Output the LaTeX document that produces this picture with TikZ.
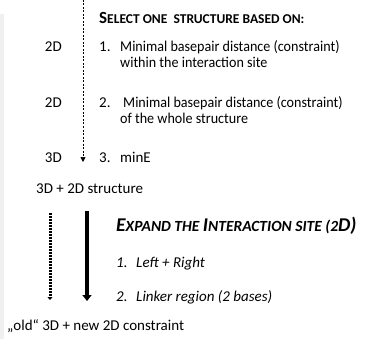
\documentclass[tikz,border=0pt]{standalone}
\usepackage{fontspec}
\usepackage{graphicx}
\setmainfont{Carlito}
\usetikzlibrary{arrows.meta}
% hand-made small capitals: large initial, smaller uppercase rest
\newcommand{\bigc}[1]{{\fontsize{17}{19}\selectfont #1}}
\newcommand{\smc}[1]{{\fontsize{13.5}{15}\selectfont #1}}
\newcommand{\bigi}[1]{{\fontsize{19.5}{21}\selectfont #1}}
\newcommand{\smi}[1]{{\fontsize{15.5}{17}\selectfont #1}}
% slightly condensed line for the long criteria
\newcommand{\narrow}[1]{\scalebox{0.94}[1]{#1}}
\begin{document}
\begin{tikzpicture}[x=1pt,y=-1pt,
  txt/.style={anchor=base west,inner sep=0pt,font=\fontsize{15}{17}\selectfont},
  itxt/.style={txt,font=\fontsize{15}{17}\selectfont\itshape},
  lbl/.style={anchor=base east,inner sep=0pt,font=\fontsize{15}{17}\selectfont},
  head/.style={anchor=base west,inner sep=0pt,font=\bfseries}]
\useasboundingbox (0,0) rectangle (371,339);
\fill[black!6] (0,14) rectangle (4,339);

% selection criteria
\node[head] (sel) at (99,24) {\bigc{S}\smc{ELECT ONE\ \ STRUCTURE BASED ON:}};
\node[lbl] (d1) at (62,52) {2D};
\node[txt] (n1) at (99,52) {1.};
\node[txt] (t1) at (120,52) {\narrow{Minimal basepair distance (constraint)}};
\node[txt] (t1b) at (120,68) {\narrow{within the interaction site}};
\node[lbl] (d2) at (62,108) {2D};
\node[txt] (n2) at (99,108) {2.};
\node[txt] (t2) at (123,108) {\narrow{Minimal basepair distance (constraint)}};
\node[txt] (t2b) at (120,124) {\narrow{of the whole structure}};
\node[lbl] (d3) at (62,162) {3D};
\node[txt] (n3) at (99,162) {3.};
\node[txt] (t3) at (120,162) {minE};
\coordinate (s0) at (83,0);
\coordinate (s1) at (83,162);
\draw[dashed,dash pattern=on 2pt off 1.5pt,line width=0.7pt,-{Triangle[length=5pt,width=5pt]}] (s0) -- (s1);

\node[txt] (res) at (36,193) {3D + 2D structure};

% expansion of the interaction site
\node[head,font=\bfseries\itshape] (exp) at (116,231)
  {\bigi{E}\smi{XPAND THE }\bigi{I}\smi{NTERACTION SITE (2}\bigi{D)}};
\node[itxt] (e1) at (116,267) {1.};
\node[itxt] (e1t) at (136,267) {Left + Right};
\node[itxt] (e2) at (116,301) {2.};
\node[itxt] (e2t) at (136,301) {Linker region (2 bases)};

\coordinate (a0) at (50,213);
\coordinate (a1) at (50,300);
\draw[line width=3pt,dash pattern=on 1.6pt off 1.4pt,-{Triangle[length=3pt,width=5pt]}] (a0) -- (a1);
\coordinate (b0) at (87,211);
\coordinate (b1) at (87,301);
\draw[line width=3.5pt,-{Triangle[length=6pt,width=9pt]}] (b0) -- (b1);

\node[txt] (fin) at (7,330) {„old“ 3D + new 2D constraint};
\end{tikzpicture}
\end{document}
